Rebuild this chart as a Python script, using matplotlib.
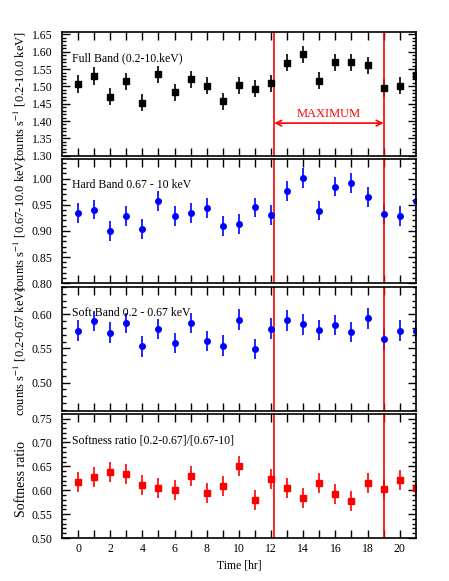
import matplotlib

matplotlib.use("Agg")
import matplotlib.pyplot as plt
import numpy as np
from matplotlib.ticker import MultipleLocator, FixedLocator

plt.rcParams["font.family"] = ["Liberation Serif", "DejaVu Serif"]
plt.rcParams["mathtext.fontset"] = "stix"

hours = np.arange(0, 22)

full = [1.507, 1.530, 1.470, 1.515, 1.453, 1.535, 1.483, 1.520, 1.502, 1.457,
        1.503, 1.493, 1.509, 1.568, 1.592, 1.516, 1.569, 1.569, 1.561, 1.495,
        1.502, 1.533]
full_err = 0.025

hard = [0.934, 0.941, 0.900, 0.929, 0.904, 0.957, 0.928, 0.935, 0.944, 0.910,
        0.913, 0.945, 0.931, 0.976, 1.002, 0.939, 0.985, 0.991, 0.965, 0.933,
        0.929, 0.957]
hard_err = 0.019

soft = [0.576, 0.590, 0.573, 0.587, 0.553, 0.578, 0.558, 0.587, 0.561, 0.554,
        0.592, 0.549, 0.579, 0.591, 0.585, 0.577, 0.584, 0.574, 0.594, 0.563,
        0.576, 0.576]
soft_err = 0.015

ratio = [0.618, 0.628, 0.638, 0.634, 0.611, 0.604, 0.601, 0.629, 0.594, 0.609,
         0.650, 0.580, 0.623, 0.605, 0.584, 0.615, 0.593, 0.578, 0.616, 0.603,
         0.621, 0.604]
ratio_err = 0.021

max_start, max_end = 12.2, 19.0

panels = [
    dict(y=full, err=full_err, color="black", marker="s", ylim=(1.30, 1.657),
         ticks=np.arange(1.30, 1.66, 0.05), label="Full Band (0.2-10.keV)",
         ylabel="counts s$^{-1}$ [0.2-10.0 keV]", ylsize=9),
    dict(y=hard, err=hard_err, color="blue", marker="o", ylim=(0.80, 1.037),
         ticks=np.arange(0.80, 1.01, 0.05), label="Hard Band 0.67 - 10 keV",
         ylabel="counts s$^{-1}$ [0.67-10.0 keV]", ylsize=9),
    dict(y=soft, err=soft_err, color="blue", marker="o", ylim=(0.459, 0.640),
         ticks=np.arange(0.50, 0.61, 0.05), label="Soft Band 0.2 - 0.67 keV",
         ylabel="counts s$^{-1}$ [0.2-0.67 keV]", ylsize=9),
    dict(y=ratio, err=ratio_err, color="red", marker="s", ylim=(0.50, 0.759),
         ticks=np.arange(0.50, 0.76, 0.05), label="Softness ratio [0.2-0.67]/[0.67-10]",
         ylabel="Softness ratio", ylsize=10),
]

fig, axes = plt.subplots(4, 1, figsize=(4.49, 5.81), dpi=100, sharex=True)
fig.subplots_adjust(left=0.138, right=0.926, top=0.945, bottom=0.074, hspace=0.03)

for ax, p in zip(axes, panels):
    ax.errorbar(hours, p["y"], yerr=p["err"], fmt=p["marker"], color=p["color"],
                ms=4, elinewidth=1.2, capsize=0, clip_on=True)
    ax.set_xlim(-1, 21)
    ax.set_ylim(*p["ylim"])
    ax.yaxis.set_major_locator(FixedLocator(p["ticks"]))
    ax.yaxis.set_minor_locator(MultipleLocator(0.01))
    ax.set_yticklabels([f"{t:.2f}" for t in p["ticks"]])
    ax.xaxis.set_major_locator(MultipleLocator(1))
    ax.tick_params(axis="both", which="both", direction="in", top=True, right=True,
                   labelsize=8.5, width=1.0)
    ax.tick_params(axis="x", which="major", length=6)
    ax.tick_params(axis="y", which="major", length=6, pad=7)
    ax.tick_params(axis="y", which="minor", length=3)
    for spine in ax.spines.values():
        spine.set_linewidth(1.2)
    ax.axvline(max_start, color="red", lw=1.2)
    ax.axvline(max_end, color="red", lw=1.2)
    ax.text(0.028, 0.79, p["label"], transform=ax.transAxes, fontsize=8.5,
            va="center", ha="left")
    ax.set_ylabel(p["ylabel"], fontsize=p["ylsize"])
    ax.yaxis.set_label_coords(-0.097, 0.48)

axes[-1].set_xticks(np.arange(0, 21, 1))
axes[-1].set_xticklabels([str(t) if t % 2 == 0 else "" for t in range(0, 21)])
axes[-1].set_xlabel("Time [hr]", fontsize=8.5, labelpad=3)

axes[0].annotate("", xy=(max_start, 1.394), xytext=(max_end, 1.394),
                 arrowprops=dict(arrowstyle="<->", color="red", lw=1.2,
                                 shrinkA=0, shrinkB=0))
axes[0].text((max_start + max_end) / 2, 1.403, "MAXIMUM", color="red",
             fontsize=9, ha="center", va="bottom")

fig.savefig("out.png", dpi=100)
